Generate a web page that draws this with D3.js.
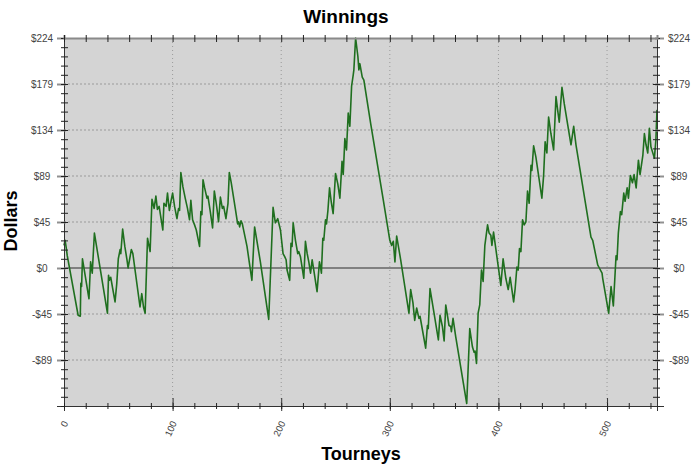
<!DOCTYPE html>
<html>
<head>
<meta charset="utf-8">
<script src="https://cdn.jsdelivr.net/npm/d3@7"></script>
<style>
body { margin: 0; background: #fff; }
text { font-family: "Liberation Sans", Arial, sans-serif; }
</style>
</head>
<body>
<svg id="chart" width="700" height="467"></svg>
<script>
"use strict";
var tourneys = [0, 1, 2, 3, 13, 15, 15.5, 16.2, 17, 23, 24.5, 26, 28, 40, 41, 41.7, 43, 47, 48.6, 50,
    51.7, 52.3, 54, 56, 58, 59, 62, 63.4, 70, 71.6, 73.2, 74.7, 76.9, 79.3, 81, 83, 84.6, 86, 87.6, 91,
    92, 94, 95.3, 97, 98.7, 100, 101.8, 104, 105.5, 106.4, 107.6, 109.5, 111.6, 113.7, 114.7, 115.6, 116.8, 118.4, 120.2, 121.8,
    124.8, 126, 127, 128, 129.5, 131.6, 132.5, 134.7, 136.8, 138.4, 139.9, 140.8, 142.3, 144, 145.8, 147, 147.9, 149.1, 151, 152.2,
    154, 157.7, 159.9, 160.8, 161.7, 163, 164.2, 168.5, 173, 175.5, 180.8, 188.5, 192.5, 194.6, 196.8, 199.3, 201.7, 203.2, 204.5, 205.4,
    207.8, 209, 210, 211, 213.1, 215.2, 216.1, 217.7, 220.8, 222.3, 223.9, 225.4, 227, 228.5, 230, 233, 235.2, 236.2, 237, 238.3,
    239.2, 240.8, 241.7, 243, 244.5, 246, 247.8, 250, 252.1, 254, 256, 257.1, 258.6, 260.1, 261.7, 263.2, 264.8, 266.3, 266.9, 268.5,
    270.6, 271.5, 272.4, 274.6, 276.1, 282.3, 294, 300, 301.7, 303.2, 304.7, 306.3, 310, 317.6, 319.2, 321.3, 322.9, 324.7, 326.8, 327.8,
    333, 334.6, 335.4, 337, 340.7, 344.7, 346.2, 348.4, 350, 351.5, 354.5, 356.1, 356.7, 358.2, 360.7, 370.8, 373.6, 376.1, 377.6, 378.5,
    379.8, 381.3, 382.8, 384.4, 385.9, 387.5, 390, 391.4, 393, 394, 395.5, 402.2, 404.3, 406.8, 409, 410.8, 412.4, 414, 415.4, 417,
    418.2, 419.4, 420.7, 422.2, 423.7, 425.3, 426.8, 428.3, 430, 430.8, 432.4, 434.5, 440, 441.6, 443, 444.6, 446.2, 448.3, 450.8, 453,
    454.5, 456, 458.5, 460.6, 466.8, 469.3, 471.4, 485.2, 486.8, 491.4, 492.9, 495.4, 496, 501.5, 503.7, 505.8, 508.3, 509.2, 510.4, 512.3,
    513.5, 515.4, 516.6, 518.5, 519.7, 521.5, 523.4, 524.9, 526.8, 528.9, 530.4, 533, 534.4, 535.9, 537.5, 539, 540.4, 543.6, 545, 546];
var dollars = [22, 27, 20, 12, -46, -47, -15, -18, 9, -30, 6, -5, 34, -44, -7, -12, -9, -33, -15, 9,
    18, 14, 38, 21, 8, 0, 18, 14, -38, -25, -38, -44, 29, 16, 67, 58, 70, 57, 60, 37,
    63, 60, 73, 56, 66, 73, 60, 48, 58, 56, 93, 79, 68, 58, 52, 47, 66, 47, 42, 37,
    21, 55, 52, 86, 78, 68, 70, 55, 39, 75, 65, 58, 45, 69, 58, 60, 55, 48, 63, 93,
    83, 58, 43, 45, 40, 46, 43, 21, -12, 40, 6, -50, 59, 44, 48, 37, 14, 11, 8, -2,
    -12, 24, 21, 44, 27, 14, 16, 11, -10, 26, 14, 6, -5, 8, -2, -23, 6, 1, -5, 29,
    27, 47, 43, 56, 78, 65, 53, 92, 82, 68, 104, 91, 126, 115, 151, 138, 177, 188, 193, 224,
    206, 193, 199, 186, 183, 141, 66, 27, 22, 26, 6, 31, 8, -44, -21, -34, -51, -39, -49, -47,
    -78, -56, -59, -20, -44, -70, -46, -57, -71, -36, -56, -57, -62, -49, -67, -132, -59, -77, -82, -81,
    -93, -44, -36, -2, -13, 22, 42, 34, 32, 22, 35, -17, 9, -10, -21, -9, -21, -33, -20, 1,
    -2, 19, 16, 47, 42, 45, 75, 63, 100, 95, 119, 108, 68, 90, 123, 112, 147, 131, 115, 167,
    154, 142, 176, 160, 120, 138, 120, 30, 27, 3, 0, -5, -10, -44, -18, -37, 12, 8, 34, 55,
    52, 73, 65, 78, 68, 90, 83, 91, 78, 105, 91, 110, 131, 120, 112, 136, 118, 107, 125, 154];

var yTickValues = [224, 179.2, 134.4, 89.6, 44.8, 0, -44.8, -89.6];
var yTickLabels = ['$224', '$179', '$134', '$89', '$45', '$0', '-$45', '-$89'];
var xTickValues = [0, 100, 200, 300, 400, 500];

var W = 700, H = 467;
var plot = { left: 64, right: 657, top: 38, bottom: 406 };

var x = d3.scaleLinear().domain([0, 546]).range([plot.left, plot.right]);
var y = d3.scaleLinear().domain([-134.4, 224]).range([plot.bottom, plot.top]);

var points = tourneys.map(function (t, i) { return { t: t, v: dollars[i] }; });
var yMinor = d3.range(-134.4, 224.01, 8.96);
var xMinor = d3.range(0, 547, 20);

var svg = d3.select('#chart');

svg.append('rect').attr('width', W).attr('height', H).attr('fill', '#ffffff');
svg.append('rect')
    .attr('x', plot.left).attr('y', plot.top)
    .attr('width', plot.right - plot.left).attr('height', plot.bottom - plot.top)
    .attr('fill', '#d4d4d4');

// grid
svg.append('g').selectAll('line')
    .data(yTickValues.filter(function (d) { return d !== 0 && d !== 224; }))
    .enter().append('line')
    .attr('x1', plot.left).attr('x2', plot.right)
    .attr('y1', function (d) { return y(d); }).attr('y2', function (d) { return y(d); })
    .attr('stroke', '#9a9a9a').attr('stroke-width', 1).attr('stroke-dasharray', '2,2');
svg.append('g').selectAll('line')
    .data(xTickValues.filter(function (d) { return d !== 0; }))
    .enter().append('line')
    .attr('x1', function (d) { return x(d); }).attr('x2', function (d) { return x(d); })
    .attr('y1', plot.top).attr('y2', plot.bottom)
    .attr('stroke', '#9a9a9a').attr('stroke-width', 1).attr('stroke-dasharray', '1,3');
svg.append('line')
    .attr('x1', plot.left).attr('x2', plot.right)
    .attr('y1', y(0)).attr('y2', y(0))
    .attr('stroke', '#808080').attr('stroke-width', 2);

// series
var line = d3.line().x(function (d) { return x(d.t); }).y(function (d) { return y(d.v); });
svg.append('path')
    .datum(points)
    .attr('d', line)
    .attr('fill', 'none')
    .attr('stroke', '#1f6f1f')
    .attr('stroke-width', 1.6)
    .attr('stroke-linejoin', 'round');

// axes
function styleAxis(g) {
    g.select('.domain').attr('stroke', '#333');
    g.selectAll('.tick text').attr('fill', '#444').style('font-size', '10px');
}
function minorTicks(g, axis) {
    g.call(axis);
    g.select('.domain').remove();
    g.selectAll('.tick text').remove();
    g.selectAll('.tick line').attr('stroke', '#222');
}

var leftAxis = svg.append('g').attr('transform', 'translate(' + plot.left + ',0)');
leftAxis.call(d3.axisLeft(y).tickValues(yTickValues)
    .tickFormat(function (d, i) { return yTickLabels[i]; })
    .tickSize(7));
styleAxis(leftAxis);
leftAxis.selectAll('.tick line').attr('x1', 2).attr('stroke', '#909090').attr('stroke-width', 2);
leftAxis.selectAll('.tick text').attr('text-anchor', 'middle').attr('x', -22);
var leftMinor = svg.append('g').attr('transform', 'translate(' + plot.left + ',0)');
minorTicks(leftMinor, d3.axisLeft(y).tickValues(yMinor).tickSize(3));
leftMinor.selectAll('.tick line').attr('x1', 4);

var rightAxis = svg.append('g').attr('transform', 'translate(' + plot.right + ',0)');
rightAxis.call(d3.axisRight(y).tickValues(yTickValues)
    .tickFormat(function (d, i) { return yTickLabels[i]; })
    .tickSize(7));
styleAxis(rightAxis);
rightAxis.selectAll('.tick line').attr('x1', -2).attr('stroke', '#909090').attr('stroke-width', 2);
rightAxis.selectAll('.tick text').attr('text-anchor', 'middle').attr('x', 22);
var rightMinor = svg.append('g').attr('transform', 'translate(' + plot.right + ',0)');
minorTicks(rightMinor, d3.axisRight(y).tickValues(yMinor).tickSize(3));
rightMinor.selectAll('.tick line').attr('x1', -4);

var bottomAxis = svg.append('g').attr('transform', 'translate(0,' + plot.bottom + ')');
bottomAxis.call(d3.axisBottom(x).tickValues(xTickValues).tickSize(5));
styleAxis(bottomAxis);
bottomAxis.selectAll('.tick line').attr('y1', -8).attr('stroke', '#333');
bottomAxis.selectAll('.tick text')
    .attr('text-anchor', 'end')
    .attr('x', 0).attr('y', 0).attr('dy', null)
    .attr('transform', 'translate(4,17) rotate(-65)')
    .style('font-size', '9.5px');
var bottomMinor = svg.append('g').attr('transform', 'translate(0,' + plot.bottom + ')');
minorTicks(bottomMinor, d3.axisBottom(x).tickValues(xMinor).tickSize(3));
bottomMinor.selectAll('.tick line').attr('y1', -3);

var topAxis = svg.append('g').attr('transform', 'translate(0,' + plot.top + ')');
topAxis.call(d3.axisTop(x).tickValues(xMinor).tickSize(3).tickFormat(''));
topAxis.select('.domain').attr('stroke', '#8a8a8a').attr('stroke-width', 2);
topAxis.selectAll('.tick line').attr('y1', 4).attr('stroke', '#222');

// titles
svg.append('text')
    .attr('x', 346).attr('y', 23)
    .attr('text-anchor', 'middle')
    .style('font-size', '19px').style('font-weight', 'bold')
    .text('Winnings');
svg.append('text')
    .attr('x', 361).attr('y', 460)
    .attr('text-anchor', 'middle')
    .style('font-size', '18px').style('font-weight', 'bold')
    .text('Tourneys');
svg.append('text')
    .attr('transform', 'translate(17,221) rotate(-90)')
    .attr('text-anchor', 'middle')
    .style('font-size', '18px').style('font-weight', 'bold')
    .text('Dollars');
</script>
</body>
</html>
